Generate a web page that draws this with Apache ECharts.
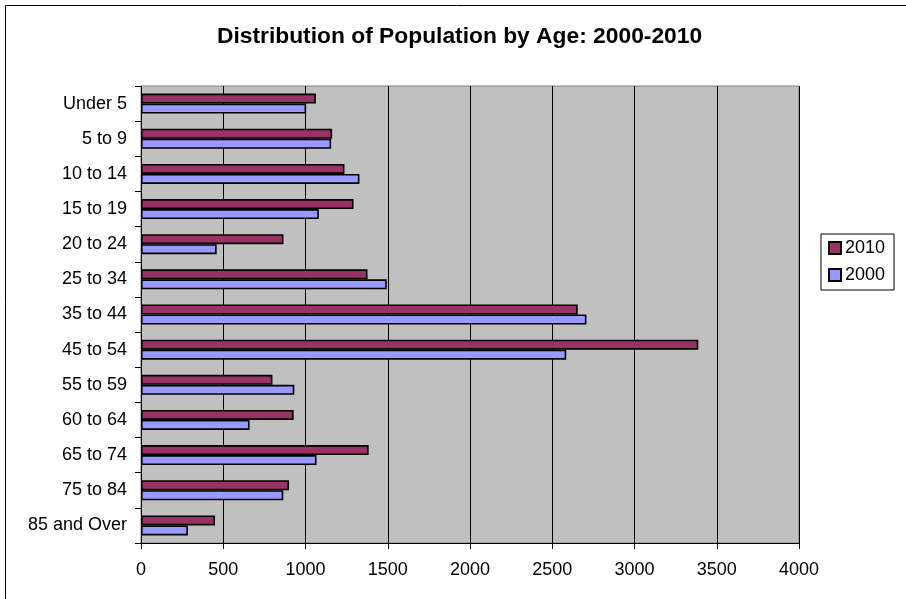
<!DOCTYPE html>
<html>
<head>
<meta charset="utf-8">
<script src="https://cdn.jsdelivr.net/npm/echarts@6/dist/echarts.min.js"></script>
<style>
html,body{margin:0;padding:0;background:#fff;}
#chart{width:906px;height:599px;}
</style>
</head>
<body>
<div id="chart"></div>
<script>
const categories = ['Under 5','5 to 9','10 to 14','15 to 19','20 to 24','25 to 34','35 to 44','45 to 54','55 to 59','60 to 64','65 to 74','75 to 84','85 and Over'];
const values2010 = [1063,1162,1237,1292,866,1377,2655,3388,799,928,1384,900,450];
const values2000 = [1004,1156,1328,1081,460,1494,2708,2585,932,660,1067,865,285];
const xTicks = [0,500,1000,1500,2000,2500,3000,3500,4000];

const FONT = '"Liberation Sans", Arial, sans-serif';
const chart = echarts.init(document.getElementById('chart'), null, {renderer:'canvas'});
const barStyle = (c) => ({color:c, borderColor:'#000', borderWidth:1.6});
chart.setOption({
  animation:false,
  backgroundColor:'#fff',
  title:{
    text:'Distribution of Population by Age: 2000-2010',
    left:217, top:25, padding:0,
    textStyle:{fontFamily:FONT, fontSize:22.8, fontWeight:'bold', color:'#000'}
  },
  graphic:[{type:'rect', shape:{x:5.5,y:5.5,width:2000,height:2000}, style:{fill:null, stroke:'#000', lineWidth:1}, silent:true, z:-10}],
  legend:{
    orient:'vertical', left:821, top:234,
    padding:[5,9,6,7], borderColor:'#000', borderWidth:1,
    itemWidth:12, itemHeight:12, itemGap:9,
    icon:'rect',
    data:['2010','2000'],
    textStyle:{fontFamily:FONT, fontSize:18, color:'#000', padding:[0,0,0,-1]}
  },
  grid:{left:141, top:86, right:107, bottom:56, show:true, backgroundColor:'#C0C0C0', borderColor:'#808080', borderWidth:1, containLabel:false},
  xAxis:{
    type:'value', min:xTicks[0], max:xTicks[xTicks.length-1], interval:500,
    axisLine:{show:true, lineStyle:{color:'#000', width:1}},
    axisTick:{show:true, length:6, lineStyle:{color:'#000'}},
    axisLabel:{fontFamily:FONT, fontSize:18, color:'#000', margin:18, formatter:(v)=>String(v)},
    splitLine:{show:true, lineStyle:{color:'#000', width:1}}
  },
  yAxis:{
    type:'category', data:categories, inverse:true,
    axisLine:{show:true, onZero:false, lineStyle:{color:'#000', width:1}},
    axisTick:{show:true, length:6, lineStyle:{color:'#000'}},
    axisLabel:{fontFamily:FONT, fontSize:18, color:'#000', margin:14},
    splitLine:{show:false}
  },
  series:[
    {name:'2010', type:'bar', data:values2010, barWidth:10, barGap:'0%', itemStyle:barStyle('#993366')},
    {name:'2000', type:'bar', data:values2000, barWidth:10, barGap:'0%', itemStyle:barStyle('#9999FF')}
  ]
});
</script>
</body>
</html>
